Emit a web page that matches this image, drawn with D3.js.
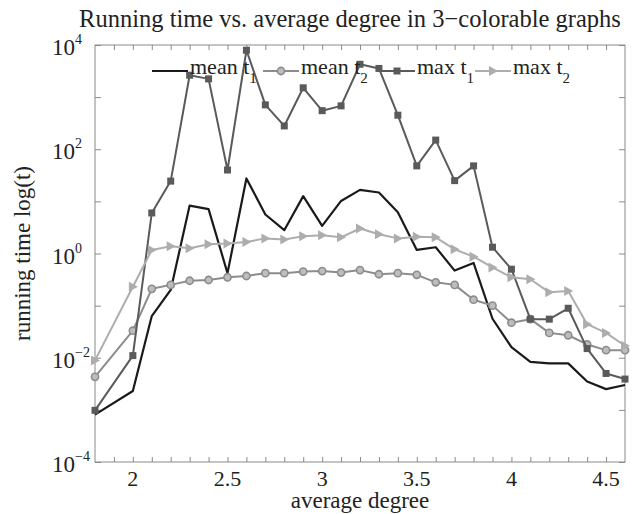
<!DOCTYPE html>
<html>
<head>
<meta charset="utf-8">
<script src="https://cdn.jsdelivr.net/npm/d3@7"></script>
<style>
  body { margin: 0; background: #fff; }
  svg { display: block; font-family: "Liberation Serif", "DejaVu Serif", serif; }
</style>
</head>
<body>
<svg id="chart"></svg>
<script>
// average degree (there is no point at 1.9)
var degrees = [1.8, 2.0, 2.1, 2.2, 2.3, 2.4, 2.5, 2.6, 2.7, 2.8, 2.9, 3.0, 3.1, 3.2, 3.3,
    3.4, 3.5, 3.6, 3.7, 3.8, 3.9, 4.0, 4.1, 4.2, 4.3, 4.4, 4.5, 4.6];

var meanT1 = [0.00081, 0.0023, 0.063, 0.20, 8.3, 7.1, 0.42, 27.5, 5.6, 2.8, 12.6, 3.4, 10.2, 16.6,
    14.8, 6.2, 1.17, 1.32, 0.47, 0.66, 0.056, 0.016, 0.0083, 0.0078, 0.0078, 0.0035, 0.0025, 0.0030];
var meanT2 = [0.0043, 0.033, 0.21, 0.25, 0.30, 0.31, 0.35, 0.37, 0.42, 0.42, 0.45, 0.46, 0.43, 0.48,
    0.40, 0.42, 0.39, 0.28, 0.25, 0.13, 0.10, 0.047, 0.055, 0.030, 0.027, 0.018, 0.014, 0.014];
var maxT1 = [0.00098, 0.011, 6.0, 24.5, 2630, 2240, 40, 7940, 710, 280, 1510, 550, 680, 4270,
    3550, 450, 48, 150, 25, 48, 1.32, 0.50, 0.055, 0.055, 0.089, 0.015, 0.0050, 0.0039];
var maxT2 = [0.0089, 0.23, 1.17, 1.38, 1.26, 1.51, 1.55, 1.66, 1.95, 1.86, 2.14, 2.24, 2.04, 3.02,
    2.34, 1.95, 2.09, 2.04, 1.20, 0.87, 0.54, 0.35, 0.32, 0.18, 0.19, 0.044, 0.030, 0.017];

var xTicks = [2, 2.5, 3, 3.5, 4, 4.5];
var yLabelExps = [-4, -2, 0, 2, 4];

var width = 637, height = 514;
// plot frame (don't use "top" as a global name, it clashes with window.top)
var plotLeft = 95, plotRight = 625, plotTop = 45, plotBottom = 462;

var svg = d3.select('#chart').attr('width', width).attr('height', height);

var x = d3.scaleLinear().domain([1.8, 4.6]).range([plotLeft, plotRight]);
var y = d3.scaleLog().domain([1e-4, 1e4]).range([plotBottom, plotTop]);

var frameColor = '#8a8a8a';

// ticks point inward on all four sides
var minorX = d3.range(19, 46).map(d => d / 10);
var decades = d3.range(-4, 5).map(e => Math.pow(10, e));

svg.append('g')
    .attr('transform', 'translate(0,' + plotBottom + ')')
    .call(d3.axisBottom(x).tickValues(minorX).tickSize(-5).tickFormat(''))
    .call(g => g.select('.domain').remove())
    .selectAll('line').attr('stroke', frameColor);
svg.append('g')
    .attr('transform', 'translate(0,' + plotTop + ')')
    .call(d3.axisTop(x).tickValues(minorX).tickSize(-5).tickFormat(''))
    .call(g => g.select('.domain').remove())
    .selectAll('line').attr('stroke', frameColor);
svg.append('g')
    .attr('transform', 'translate(' + plotLeft + ',0)')
    .call(d3.axisLeft(y).tickValues(decades).tickSize(-6).tickFormat(''))
    .call(g => g.select('.domain').remove())
    .selectAll('line').attr('stroke', frameColor);
svg.append('g')
    .attr('transform', 'translate(' + plotRight + ',0)')
    .call(d3.axisRight(y).tickValues(decades).tickSize(-6).tickFormat(''))
    .call(g => g.select('.domain').remove())
    .selectAll('line').attr('stroke', frameColor);

svg.append('rect')
    .attr('x', plotLeft).attr('y', plotTop)
    .attr('width', plotRight - plotLeft).attr('height', plotBottom - plotTop)
    .attr('fill', 'none').attr('stroke', frameColor).attr('stroke-width', 1);

// tick labels
svg.selectAll('.xlab')
    .data(xTicks)
    .enter().append('text')
    .attr('class', 'xlab')
    .attr('x', d => x(d))
    .attr('y', plotBottom + 24)
    .attr('text-anchor', 'middle')
    .attr('font-size', 22)
    .attr('fill', '#222')
    .text(d => d);

var ylab = svg.selectAll('.ylab')
    .data(yLabelExps)
    .enter().append('text')
    .attr('class', 'ylab')
    .attr('x', 52)
    .attr('y', d => y(Math.pow(10, d)) + 10)
    .attr('font-size', 23)
    .attr('fill', '#222');
ylab.append('tspan').text('10');
ylab.append('tspan')
    .attr('dy', -11)
    .attr('font-size', 14)
    .text(d => d < 0 ? '\u2212' + (-d) : d);

// titles
svg.append('text')
    .attr('x', 350).attr('y', 27)
    .attr('text-anchor', 'middle')
    .attr('font-size', 24.5)
    .attr('fill', '#222')
    .text('Running time vs. average degree in 3\u2212colorable graphs');

svg.append('text')
    .attr('x', 360).attr('y', 508)
    .attr('text-anchor', 'middle')
    .attr('font-size', 23)
    .attr('fill', '#222')
    .text('average degree');

svg.append('text')
    .attr('transform', 'translate(30,' + ((plotTop + plotBottom) / 2) + ') rotate(-90)')
    .attr('text-anchor', 'middle')
    .attr('font-size', 23)
    .attr('fill', '#222')
    .text('running time log(t)');

var series = [
    {name: 'mean', sub: '1', values: meanT1, color: '#1a1a1a', marker: 'none'},
    {name: 'mean', sub: '2', values: meanT2, color: '#8c8c8c', marker: 'circle'},
    {name: 'max', sub: '1', values: maxT1, color: '#5a5a5a', marker: 'square'},
    {name: 'max', sub: '2', values: maxT2, color: '#adadad', marker: 'triangle'}
];

var line = d3.line()
    .x((d, i) => x(degrees[i]))
    .y(d => y(d));

function drawMarker(g, s, cx, cy) {
    if (s.marker == 'circle') {
        g.append('circle')
            .attr('cx', cx).attr('cy', cy).attr('r', 3.6)
            .attr('fill', '#bdbdbd').attr('stroke', s.color).attr('stroke-width', 1.6);
    } else if (s.marker == 'square') {
        g.append('rect')
            .attr('x', cx - 3.5).attr('y', cy - 3.5)
            .attr('width', 7).attr('height', 7)
            .attr('fill', s.color);
    } else if (s.marker == 'triangle') {
        g.append('path')
            .attr('d', 'M' + (cx - 4) + ',' + (cy - 5) + 'L' + (cx + 5) + ',' + cy + 'L' + (cx - 4) + ',' + (cy + 5) + 'Z')
            .attr('fill', s.color);
    }
}

var plot = svg.append('g');

series.forEach(function(s) {
    var g = plot.append('g');
    g.append('path')
        .datum(s.values)
        .attr('d', line)
        .attr('fill', 'none')
        .attr('stroke', s.color)
        .attr('stroke-width', s.marker == 'none' ? 2.2 : 2)
        .attr('stroke-linejoin', 'round');
    s.values.forEach(function(v, i) {
        drawMarker(g, s, x(degrees[i]), y(v));
    });
});

// legend, drawn on top of the lines without a box
var legendX = [152, 263, 379, 475];
var legendY = 71;
series.forEach(function(s, i) {
    var g = svg.append('g');
    var x0 = legendX[i];
    g.append('line')
        .attr('x1', x0).attr('x2', x0 + 36)
        .attr('y1', legendY).attr('y2', legendY)
        .attr('stroke', s.color).attr('stroke-width', 2);
    drawMarker(g, s, x0 + 18, legendY);
    var t = g.append('text')
        .attr('x', x0 + 38).attr('y', legendY + 3)
        .attr('font-size', 22)
        .attr('fill', '#222');
    t.append('tspan').text(s.name + ' t');
    t.append('tspan').attr('dy', 9).attr('font-size', 15).text(s.sub);
});
</script>
</body>
</html>
